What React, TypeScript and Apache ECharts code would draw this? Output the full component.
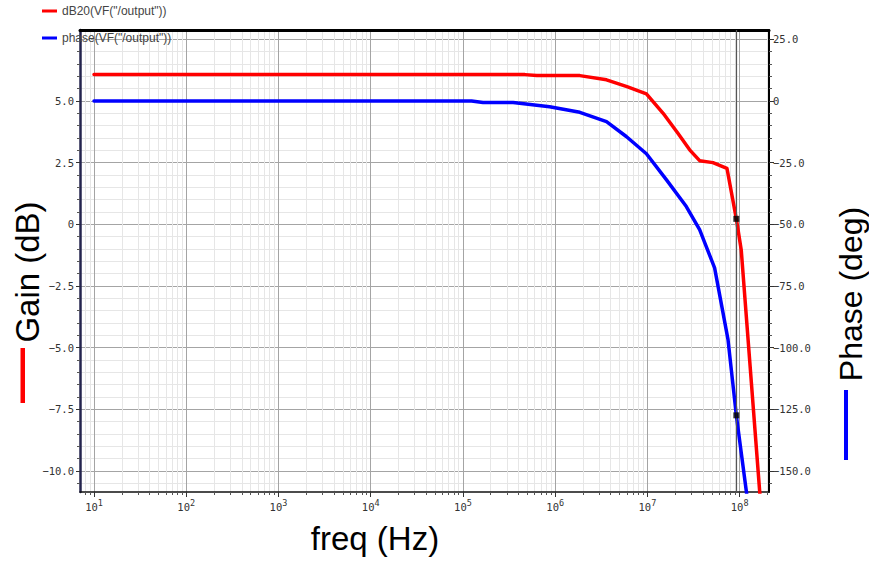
import React, { useEffect, useRef } from "react";
import * as echarts from "echarts";

// Frequency sweep (Hz) and closed-loop response read from the AC analysis
const gainFreq = [10, 4.7e5, 6.3e5, 1.85e6, 3.6e6, 6.0e6, 9.75e6, 1.48e7, 2.14e7, 2.87e7, 3.68e7, 5.13e7, 7.28e7, 9.2e7, 1.04e8, 1.65e8, 2.0e8];
const gainDb = [6.07, 6.07, 6.03, 6.03, 5.86, 5.58, 5.29, 4.5, 3.69, 3.02, 2.58, 2.5, 2.27, 0.22, -1.04, -10.86, -15.0];

const phaseFreq = [10, 1.24e5, 1.65e5, 3.5e5, 8.7e5, 1.85e6, 3.6e6, 5.9e6, 9.75e6, 1.61e7, 2.64e7, 3.68e7, 5.35e7, 7.47e7, 9.2e7, 1.18e8, 1.3e8];
const phaseDeg = [0, 0, -0.6, -0.6, -2.3, -4.6, -8.4, -14.4, -21.4, -32.0, -42.8, -52.2, -67.7, -96.7, -127.5, -158.2, -170];

// Cursor frequency (unity-gain crossing)
const MARKER_FREQ = 9.2e7;

// Axis ranges and ticks
const FREQ_MIN = 7.05;
const FREQ_MAX = 2.08e8;
const GAIN_MIN = -10.86;
const GAIN_MAX = 7.88;
const PHASE_MIN = -158.6;
const PHASE_MAX = 28.8;

const DECADES = [10, 100, 1e3, 1e4, 1e5, 1e6, 1e7, 1e8];
const DECADE_STEPS = [2, 3, 4, 5, 6, 7, 8, 9];
const GAIN_TICKS = [-10, -7.5, -5, -2.5, 0, 2.5, 5];
const PHASE_TICKS = [-150, -125, -100, -75, -50, -25, 0, 25];

const FREQ_MINOR = [1, ...DECADES].flatMap((d) => DECADE_STEPS.map((m) => m * d));
const GAIN_MINOR: number[] = [];
for (let i = -21; i <= 15; i++) if (i % 5 !== 0) GAIN_MINOR.push(i / 2);
const PHASE_MINOR: number[] = [];
for (let i = -31; i <= 5; i++) if (i % 5 !== 0) PHASE_MINOR.push(i * 5);

const TITLE_FONT = "'Liberation Sans', Arial, sans-serif";
const TICK_FONT = "'DejaVu Sans Mono', monospace";
const MAJOR_GRID = "#a4a4a4";
const MINOR_GRID = "#e6e6e6";

const fmtSigned = (v: number) =>
  v === 0 ? "0" : (v < 0 ? "\u2212" : "") + Math.abs(v).toFixed(1);

const zip = (xs: number[], ys: number[]) => xs.map((x, i) => [x, ys[i]]);

export default function App() {
  const ref = useRef<HTMLDivElement>(null);

  useEffect(() => {
    if (!ref.current) return;
    const chart = echarts.init(ref.current, undefined, { renderer: "svg" });

    const markerGain = gainDb[gainFreq.indexOf(MARKER_FREQ)];
    const markerPhase = phaseDeg[phaseFreq.indexOf(MARKER_FREQ)];

    const tickLabel = { fontFamily: TICK_FONT, fontSize: 10.5, color: "#333" };

    chart.setOption({
      animation: false,
      backgroundColor: "#fff",
      grid: { left: 80, top: 30, right: 100, bottom: 73, containLabel: false },
      legend: {
        orient: "vertical",
        left: 37,
        top: 0,
        itemWidth: 15,
        itemHeight: 3,
        itemGap: 15,
        icon: "rect",
        textStyle: { fontFamily: TITLE_FONT, fontSize: 12, color: "#444" },
        data: ['dB20(VF("/output"))', 'phase(VF("/output"))'],
      },
      xAxis: [
        {
          type: "log",
          logBase: 10,
          min: FREQ_MIN,
          max: FREQ_MAX,
          position: "bottom",
          axisLine: { onZero: false, lineStyle: { color: "#111", width: 1.5 } },
          axisTick: { customValues: DECADES, length: 5, lineStyle: { color: "#333" } },
          axisLabel: {
            customValues: DECADES,
            margin: 6,
            formatter: (v: number) => `{b|10}{e|${Math.round(Math.log10(v))}}`,
            rich: {
              b: { fontFamily: TICK_FONT, fontSize: 10.5, lineHeight: 18, color: "#333" },
              e: { fontFamily: TICK_FONT, fontSize: 8.5, verticalAlign: "top", color: "#333" },
            },
          },
          splitLine: { show: true, lineStyle: { color: MAJOR_GRID, width: 1 } },
        },
        {
          type: "log",
          logBase: 10,
          min: FREQ_MIN,
          max: FREQ_MAX,
          position: "bottom",
          axisLine: { show: false, onZero: false },
          axisTick: { customValues: FREQ_MINOR, length: 3, lineStyle: { color: "#555" } },
          axisLabel: { show: false },
          splitLine: { show: true, lineStyle: { color: MINOR_GRID, width: 1 } },
        },
        {
          type: "log",
          logBase: 10,
          min: FREQ_MIN,
          max: FREQ_MAX,
          position: "top",
          axisLine: { onZero: false, lineStyle: { color: "#000", width: 3 } },
          axisTick: { show: false },
          axisLabel: { show: false },
          splitLine: { show: false },
        },
      ],
      yAxis: [
        {
          type: "value",
          position: "left",
          min: GAIN_MIN,
          max: GAIN_MAX,
          axisLine: { show: true, onZero: false, lineStyle: { color: "#24244e", width: 2.5 } },
          axisTick: { show: true, customValues: GAIN_TICKS, length: 4, lineStyle: { color: "#333" } },
          axisLabel: { customValues: GAIN_TICKS, margin: 6, formatter: fmtSigned, ...tickLabel },
          splitLine: { show: false },
        },
        {
          type: "value",
          position: "right",
          min: PHASE_MIN,
          max: PHASE_MAX,
          axisLine: { show: true, onZero: false, lineStyle: { color: "#000", width: 2 } },
          axisTick: { show: true, customValues: PHASE_TICKS, length: 5, lineStyle: { color: "#333" } },
          axisLabel: { customValues: PHASE_TICKS, margin: 4, formatter: fmtSigned, ...tickLabel },
          splitLine: { show: true, lineStyle: { color: MAJOR_GRID, width: 1 } },
        },
        {
          type: "value",
          position: "left",
          min: GAIN_MIN,
          max: GAIN_MAX,
          axisLine: { show: false, onZero: false },
          axisTick: { show: true, customValues: GAIN_MINOR, length: 3, lineStyle: { color: "#555" } },
          axisLabel: { show: false },
          splitLine: { show: true, lineStyle: { color: MINOR_GRID, width: 1 } },
        },
        {
          type: "value",
          position: "right",
          min: PHASE_MIN,
          max: PHASE_MAX,
          axisLine: { show: false, onZero: false },
          axisTick: { show: true, customValues: PHASE_MINOR, length: 3, lineStyle: { color: "#555" } },
          axisLabel: { show: false },
          splitLine: { show: false },
        },
      ],
      series: [
        {
          name: 'dB20(VF("/output"))',
          type: "line",
          xAxisIndex: 0,
          yAxisIndex: 0,
          data: zip(gainFreq, gainDb),
          showSymbol: false,
          clip: true,
          color: "#ff0000",
          lineStyle: { color: "#ff0000", width: 3.5, cap: "round", join: "round" },
          markLine: {
            silent: true,
            symbol: "none",
            label: { show: false },
            lineStyle: { color: "#555", width: 1.2, type: "solid" },
            data: [{ xAxis: MARKER_FREQ }],
          },
          z: 3,
        },
        {
          name: 'phase(VF("/output"))',
          type: "line",
          xAxisIndex: 0,
          yAxisIndex: 1,
          data: zip(phaseFreq, phaseDeg),
          showSymbol: false,
          clip: true,
          color: "#0000ff",
          lineStyle: { color: "#0000ff", width: 3.5, cap: "round", join: "round" },
          z: 3,
        },
        {
          type: "scatter",
          xAxisIndex: 0,
          yAxisIndex: 0,
          data: [[MARKER_FREQ, markerGain]],
          symbol: "rect",
          symbolSize: 6,
          itemStyle: { color: "#000" },
          z: 5,
        },
        {
          type: "scatter",
          xAxisIndex: 0,
          yAxisIndex: 1,
          data: [[MARKER_FREQ, markerPhase]],
          symbol: "rect",
          symbolSize: 6,
          itemStyle: { color: "#000" },
          z: 5,
        },
      ],
      graphic: [
        {
          type: "text",
          x: 27,
          y: 272,
          rotation: Math.PI / 2,
          style: { text: "Gain (dB)", fontFamily: TITLE_FONT, fontSize: 33, fill: "#000", align: "center", verticalAlign: "middle" },
        },
        { type: "rect", shape: { x: 20.5, y: 348, width: 4.5, height: 55 }, style: { fill: "#ff0000" } },
        {
          type: "text",
          x: 851,
          y: 294,
          rotation: Math.PI / 2,
          style: { text: "Phase (deg)", fontFamily: TITLE_FONT, fontSize: 32, fill: "#000", align: "center", verticalAlign: "middle" },
        },
        { type: "rect", shape: { x: 844, y: 390, width: 4, height: 70 }, style: { fill: "#0000ff" } },
        {
          type: "text",
          x: 375,
          y: 538,
          style: { text: "freq (Hz)", fontFamily: TITLE_FONT, fontSize: 33, fill: "#000", align: "center", verticalAlign: "middle" },
        },
      ],
    });

    return () => chart.dispose();
  }, []);

  return (
    <div
      ref={ref}
      style={{ position: "fixed", left: 0, top: 0, width: 869, height: 565, background: "#fff" }}
    />
  );
}
